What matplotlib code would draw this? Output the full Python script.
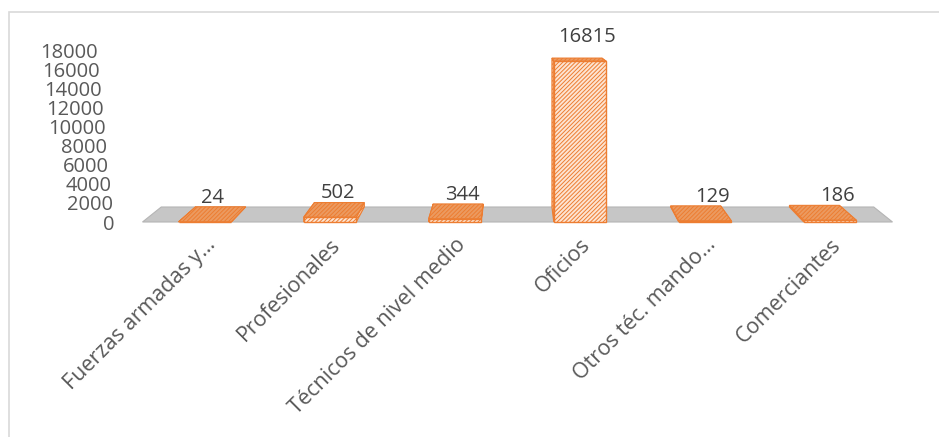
import matplotlib
matplotlib.use("Agg")
import matplotlib.pyplot as plt
from matplotlib.patches import Polygon, Rectangle
from matplotlib.transforms import ScaledTranslation

# data
categories = ["Fuerzas armadas y\u2026", "Profesionales", "Técnicos de nivel medio",
              "Oficios", "Otros téc. mando\u2026", "Comerciantes"]
values = [24, 502, 344, 16815, 129, 186]
y_ticks = list(range(0, 18001, 2000))

plt.rcParams['font.family'] = ['Open Sans', 'DejaVu Sans']
plt.rcParams['hatch.linewidth'] = 0.7

W, H = 939, 437
fig = plt.figure(figsize=(W / 100, H / 100), dpi=100)

# axes placed so that 0 sits on the floor front edge and 18000 at the top tick
ax = fig.add_axes([142.5 / W, (H - 222) / H, 750 / W, 172 / H])
ax.set_xlim(-0.5, len(categories) - 0.5)
ax.set_ylim(0, 18000)
for s in ax.spines.values():
    s.set_visible(False)
ax.patch.set_alpha(0)

# fake perspective: back points drift toward a vanishing point
vx, vy = (len(categories) - 1) / 2, 21450
kx, ky = 0.05, 0.0732


def back(x, y):
    return (x + kx * (vx - x), y + ky * (vy - y))


x0, x1 = -0.5, len(categories) - 0.5
floor = [(x0, 0), (x1, 0), back(x1, 0), back(x0, 0)]
ax.add_patch(Polygon(floor, closed=True, facecolor='#c6c6c6', edgecolor='#b5b5b5',
                     lw=0.8, zorder=1, clip_on=False))

bw = 0.42
orange = '#ed7d31'
for i, v in enumerate(values):
    l, r = i - bw / 2, i + bw / 2
    fl, fr = (l, 0), (r, 0)
    tl, tr = (l, v), (r, v)
    bl, br, btl, btr = back(l, 0), back(r, 0), back(l, v), back(r, v)
    left_side = [fl, tl, btl, bl]
    right_side = [fr, tr, btr, br]
    top = [tl, tr, btr, btl]
    front = [fl, fr, tr, tl]
    for poly in (left_side, right_side):
        ax.add_patch(Polygon(poly, closed=True, facecolor='#f6c4a0', edgecolor=orange,
                             hatch='////////', lw=0.8, zorder=2, clip_on=False))
    ax.add_patch(Polygon(top, closed=True, facecolor='#eb9a60', edgecolor=orange,
                         hatch='////////', lw=0.8, zorder=3, clip_on=False))
    ax.add_patch(Polygon(front, closed=True, facecolor='#fde4d2', edgecolor=orange,
                         hatch='////////', lw=1.0, zorder=4, clip_on=False))
    ax.annotate(str(v), (i + 0.06, v), xytext=(0, 10), textcoords='offset points',
                ha='center', va='bottom', fontsize=14.5, color='#404040',
                annotation_clip=False, zorder=5)

ax.set_yticks(y_ticks)
ax.set_yticklabels([str(t) for t in y_ticks])
ax.tick_params(axis='y', length=0, pad=19.8, labelsize=14.5, labelcolor='#595959')
# the value axis leans a little, like the perspective wall
for t, lab in zip(y_ticks, ax.get_yticklabels()):
    lab.set_transform(lab.get_transform() +
                      ScaledTranslation(-0.17 * t / 18000, 0, fig.dpi_scale_trans))

ax.set_xticks(range(len(categories)))
ax.set_xticklabels(categories, rotation=45, ha='right', rotation_mode='anchor')
ax.tick_params(axis='x', length=0, pad=9, labelsize=15.5, labelcolor='#595959')

# chart area border (only top and left edges fall inside the picture)
fig.add_artist(Rectangle((9 / W, -0.1), 1.1, (H - 12) / H + 0.1, transform=fig.transFigure,
                         fill=False, edgecolor='#d9d9d9', lw=1.2))

fig.savefig('out.png', dpi=100)
